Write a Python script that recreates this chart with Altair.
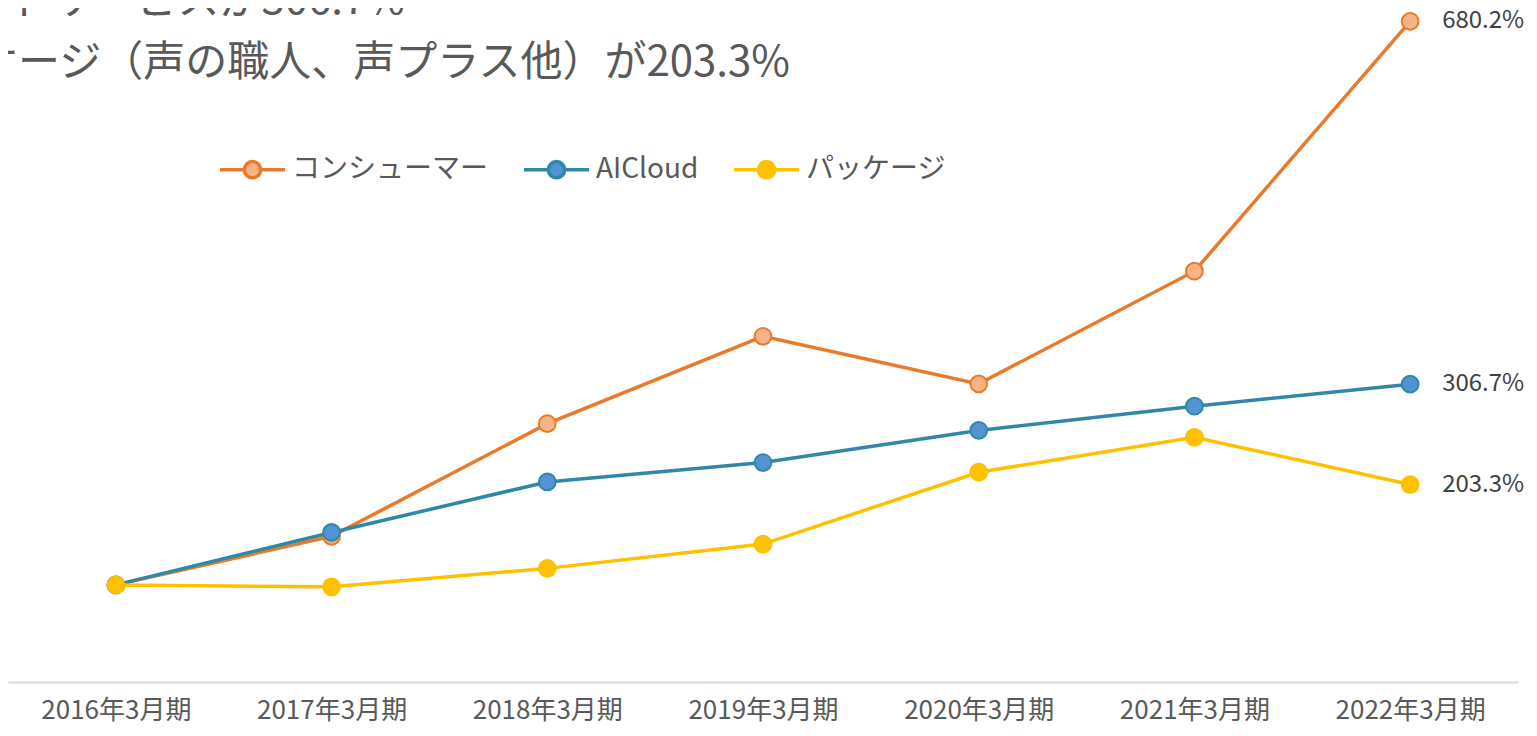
import altair as alt
import pandas as pd

years = ["2016年3月期", "2017年3月期", "2018年3月期", "2019年3月期",
         "2020年3月期", "2021年3月期", "2022年3月期"]
series_names = ["コンシューマー", "AICloud", "パッケージ"]
consumer = [100, 150, 266, 356, 307, 423, 680.2]
aicloud = [100, 154, 206, 226, 259, 284, 306.7]
package = [100, 98, 117, 142, 216, 252, 203.3]
title_lines = ["AIクラウドサービスが306.7%", "パッケージ（声の職人、声プラス他）が203.3%"]

line_colors = ["#E97A2A", "#2F88A6", "#FFC000"]
fill_colors = ["#F7B385", "#5393D4", "#FFC000"]

rows = []
for name, vals in zip(series_names, [consumer, aicloud, package]):
    for y, v in zip(years, vals):
        rows.append({"year": y, "series": name, "value": v})
df = pd.DataFrame(rows)

FONT = "Noto Sans CJK JP"
r = 0.25
sym = (f"M-1,0L-{r},0M{r},0L1,0"
       f"M{r},0A{r},{r} 0 1,1 -{r},0A{r},{r} 0 1,1 {r},0Z")

x_enc = alt.X("year:N", sort=years, scale=alt.Scale(type="point", padding=0.5),
              axis=alt.Axis(title=None, labelAngle=0, ticks=False, grid=False,
                            domainColor="#D9D9D9", domainWidth=2,
                            labelFont=FONT, labelFontSize=26, labelColor="#595959",
                            labelPadding=15))
y_enc = alt.Y("value:Q", scale=alt.Scale(domain=[0, 694], nice=False, zero=True), axis=None)

stroke_scale = alt.Scale(domain=series_names, range=line_colors)
legend = alt.Legend(orient="none", legendX=210, legendY=127, direction="horizontal",
                    title=None, symbolType=sym, symbolSize=4225, symbolStrokeWidth=3.5,
                    labelFont=FONT, labelFontSize=28, labelColor="#595959",
                    labelOffset=5, columnPadding=28, padding=0, labelLimit=400)

base = alt.Chart(df)

lines = base.mark_line(strokeWidth=3.5).encode(
    x=x_enc, y=y_enc,
    stroke=alt.Stroke("series:N", scale=stroke_scale, legend=legend),
    detail="series:N",
)

points = base.mark_point(size=280, strokeWidth=2, opacity=1, fillOpacity=1).encode(
    x=x_enc, y=y_enc,
    stroke=alt.Stroke("series:N", scale=stroke_scale, legend=legend),
    fill=alt.Fill("series:N", scale=alt.Scale(domain=series_names, range=fill_colors), legend=legend),
)

labels = base.transform_filter(
    alt.datum.year == years[-1]
).transform_calculate(
    label="format(datum.value, '.1f') + '%'"
).mark_text(align="left", baseline="middle", dx=32, font=FONT, fontSize=24,
            color="#404040").encode(x=x_enc, y=y_enc, text="label:N")

tdf = pd.DataFrame({"t": title_lines, "i": [0, 1]})
t1 = alt.Chart(tdf).transform_filter(alt.datum.i == 0).mark_text(
    align="right", baseline="alphabetic", font=FONT, fontSize=42, color="#595959"
).encode(x=alt.value(397), y=alt.value(6), text="t:N")
t2 = alt.Chart(tdf).transform_filter(alt.datum.i == 1).mark_text(
    align="right", baseline="alphabetic", font=FONT, fontSize=42, color="#595959"
).encode(x=alt.value(782), y=alt.value(68), text="t:N")

chart = alt.layer(lines, points, labels, t1, t2).properties(
    width=1510, height=674,
    autosize=alt.AutoSizeParams(type="none"),
    padding={"left": 0, "top": 0, "right": 11, "bottom": 46},
    background="white",
).configure_view(stroke="transparent", strokeWidth=0)

chart.save("out.html", embed_options={"renderer": "svg", "actions": False})
